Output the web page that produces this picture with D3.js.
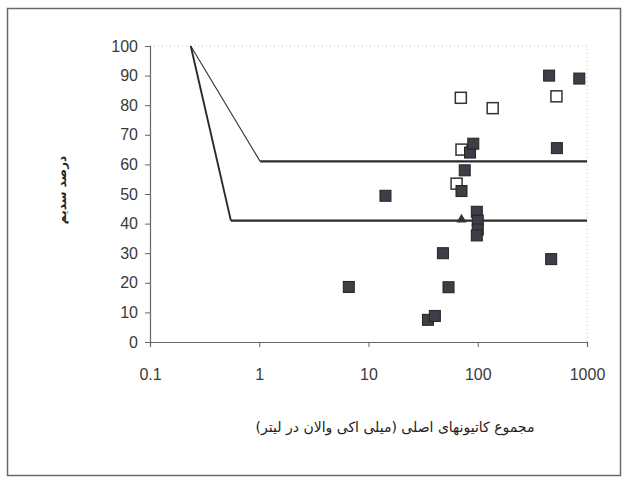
<!DOCTYPE html>
<html>
<head>
<meta charset="utf-8">
<script src="https://cdn.jsdelivr.net/npm/d3@7/dist/d3.min.js"></script>
<style>
  html, body { margin: 0; padding: 0; background: #fff; }
  svg { display: block; }
  .tick text { font-family: "Liberation Sans", Arial, sans-serif; }
</style>
</head>
<body>
<svg id="chart" width="623" height="480"></svg>
<script>
// Sodium percentage vs. total major cations (meq/L), log x-axis
const xTicks = [0.1, 1, 10, 100, 1000];
const yTicks = [0, 10, 20, 30, 40, 50, 60, 70, 80, 90, 100];

// Class boundary lines
const upperLine = [[0.236, 100], [1.02, 61], [1000, 61]];
const lowerLine = [[0.236, 100], [0.55, 41], [1000, 41]];

// Filled squares: [total cations, Na %]
const filledX = [6.6, 14.3, 48, 54, 35, 40.5, 98, 100, 100, 98, 71, 76, 85, 91, 450, 850, 530, 470];
const filledY = [18.6, 49.4, 30, 18.5, 7.5, 8.8, 44, 41, 38, 36, 51, 58, 64, 67, 90, 89, 65.5, 28];

// Open squares
const openX = [64, 71, 70, 137, 525];
const openY = [53.5, 65, 82.5, 79, 83];

// Triangle
const triX = [71];
const triY = [41];

const xTitle = "مجموع کاتیونهای اصلی (میلی اکی والان در لیتر)";
const yTitle = "درصد سدیم";

const svg = d3.select("#chart");

// outer frame
svg.append("rect")
  .attr("x", 7.5).attr("y", 8.5).attr("width", 613).attr("height", 467)
  .attr("fill", "none").attr("stroke", "#6a6a6a").attr("stroke-width", 1.5);

const x = d3.scaleLog().domain([0.1, 1000]).range([150, 587]);
const y = d3.scaleLinear().domain([0, 100]).range([342, 46]);

// light dotted plot-area border (top and right)
svg.append("path")
  .attr("d", `M${x(0.1)},${y(100)}H${x(1000)}V${y(0)}`)
  .attr("fill", "none").attr("stroke", "#bdbdbd").attr("stroke-width", 1)
  .attr("stroke-dasharray", "1,3");

// axes
const xAxis = svg.append("g")
  .attr("transform", `translate(0,${y(0)})`)
  .call(d3.axisBottom(x).tickValues(xTicks).tickFormat(d => String(d)).tickSize(5).tickPadding(22));
const yAxis = svg.append("g")
  .attr("transform", `translate(${x(0.1)},0)`)
  .call(d3.axisLeft(y).tickValues(yTicks).tickSize(5).tickPadding(7));

[xAxis, yAxis].forEach(g => {
  g.select(".domain").attr("stroke", "#666").attr("stroke-width", 1.2);
  g.selectAll(".tick line").attr("stroke", "#666");
  g.selectAll(".tick text").attr("fill", "#3a3a3a").attr("font-size", 16);
});

// boundary lines
const line = d3.line().x(d => x(d[0])).y(d => y(d[1]));
function drawSegments(pts, widths) {
  for (let i = 0; i < pts.length - 1; i++) {
    svg.append("path")
      .attr("d", line([pts[i], pts[i + 1]]))
      .attr("fill", "none").attr("stroke", "#2a2a2a")
      .attr("stroke-width", widths[i]).attr("stroke-linejoin", "miter");
  }
}
drawSegments(upperLine, [1.1, 2.2]);
drawSegments(lowerLine, [1.9, 2.2]);

// open squares
const s = 11;
svg.append("g").selectAll("rect")
  .data(d3.zip(openX, openY))
  .join("rect")
  .attr("x", d => x(d[0]) - s / 2).attr("y", d => y(d[1]) - s / 2)
  .attr("width", s).attr("height", s)
  .attr("fill", "#fff").attr("stroke", "#333").attr("stroke-width", 1.5);

// filled squares
svg.append("g").selectAll("rect")
  .data(d3.zip(filledX, filledY))
  .join("rect")
  .attr("x", d => x(d[0]) - s / 2).attr("y", d => y(d[1]) - s / 2)
  .attr("width", s).attr("height", s)
  .attr("fill", "#3e3e48").attr("stroke", "#222").attr("stroke-width", 1);

// triangle
svg.append("g").selectAll("path")
  .data(d3.zip(triX, triY))
  .join("path")
  .attr("transform", d => `translate(${x(d[0])},${y(d[1]) - 1})`)
  .attr("d", d3.symbol(d3.symbolTriangle, 45))
  .attr("fill", "#333");

// axis titles
svg.append("text")
  .attr("x", 395).attr("y", 432)
  .attr("text-anchor", "middle")
  .attr("direction", "rtl")
  .attr("font-family", "'DejaVu Sans', 'Noto Sans', sans-serif")
  .attr("font-size", 14).attr("fill", "#222")
  .text(xTitle);

svg.append("text")
  .attr("transform", "translate(66,190) rotate(-90)")
  .attr("text-anchor", "middle")
  .attr("direction", "rtl")
  .attr("font-family", "'DejaVu Sans', 'Noto Sans', sans-serif")
  .attr("font-size", 12).attr("font-weight", "bold").attr("fill", "#222")
  .text(yTitle);
</script>
</body>
</html>
